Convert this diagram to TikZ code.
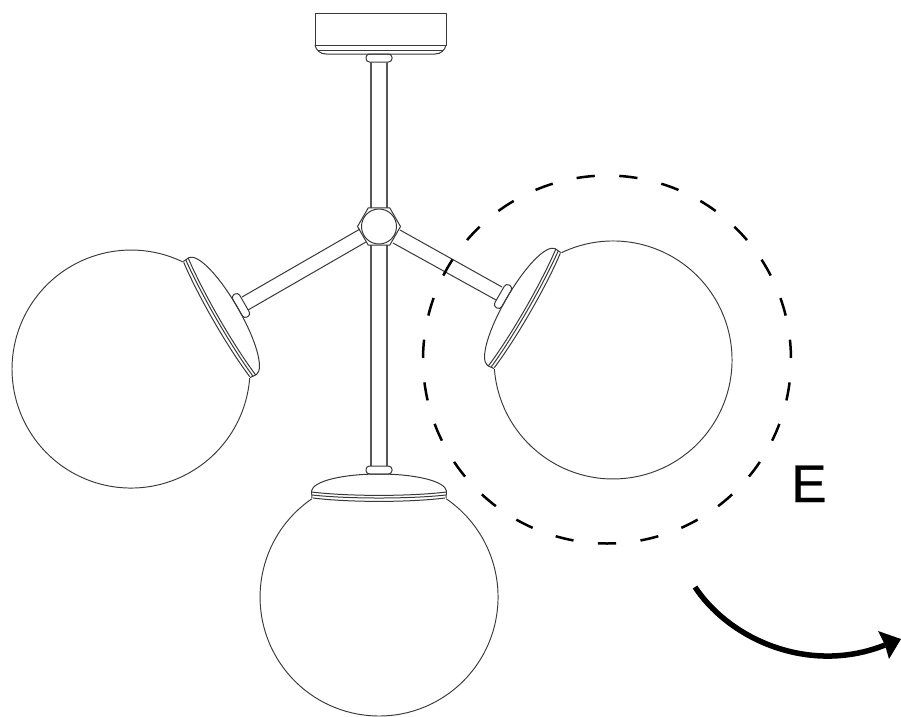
\documentclass[tikz,border=0pt]{standalone}
\usepackage{fontspec}
\setmainfont{Liberation Sans}
\newfontfamily\labelfont[FakeBold=0.6]{Liberation Sans}
\usetikzlibrary{shapes.geometric,calc}
\definecolor{ink}{gray}{0.22}
\tikzset{
  x=1pt,y=1pt,
  part/.style={draw=ink,line width=1pt,line join=round},
  glass/.style={draw=ink,line width=0.95pt},
  tube/.style={draw=ink!85,line width=1.2pt},
  dashpiece/.style={draw=black,line width=2.5pt},
  lamp/.pic={
    % globe
    \draw[glass] (-67,98.3) arc[start angle=124.3,end angle=415.7,radius=119];
    % shade dome
    \draw[part] (-67,99) -- (-67.5,106) .. controls (-66,116) and (-36,123) .. (0,123)
                .. controls (36,123) and (66,116) .. (67.5,106) -- (67,99);
    % band
    \draw[part] (-67.5,105) .. controls (-30,100.5) and (30,100.5) .. (67.5,105);
    \draw[part] (-67,102) .. controls (-30,98) and (30,98) .. (67,102);
    \draw[part] (-66,99) .. controls (-30,94.5) and (30,94.5) .. (66,99);
    % nut
    \draw[part,rounded corners=3.5pt] (-13,123) rectangle (13,131);
  }
}
\begin{document}
\begin{tikzpicture}
\useasboundingbox (0,0) rectangle (901,-716);
% canopy
\draw[part] (315,-45) -- (315,-13) -- (446,-13) -- (446,-45) -- cycle;
\draw[part] (315,-45) .. controls (316,-50) and (320,-54) .. (326,-54) -- (435,-54)
            .. controls (441,-54) and (445,-50) .. (446,-45);
\draw[part] (318,-50) -- (443,-50);
\draw[part,rounded corners=3.5pt] (366,-54) rectangle (392,-62);
% stems
\draw[tube] (371,-62) -- (371,-208) (387,-62) -- (387,-208);
\draw[tube] (371,-245) -- (371,-466) (387,-245) -- (387,-466);
% hub
\node[draw=ink,line width=1pt,regular polygon,regular polygon sides=6,minimum size=43pt,inner sep=0pt] (hub) at (379,-226.5) {};
\node[draw=ink,line width=1pt,circle,minimum size=35pt,inner sep=0pt] (hubin) at (379,-226.5) {};
% arms
\draw[part] (400,-230) -- (502,-287) (393,-243) -- (496,-300);
\draw[part] (360,-229) -- (242,-297) (366,-242) -- (248,-310);
% lamps
\pic[rotate=60] (lampR) at (613,-360) {lamp};
\pic[rotate=-60] (lampL) at (131,-369) {lamp};
\pic (lampB) at (379,-597) {lamp};
% dashed circle
\coordinate (ringc) at (607,-359.5);
\foreach \k in {0,...,26}{
  \pgfmathsetmacro{\a}{-90+13.333*\k}
  \draw[dashpiece] ($(ringc)+(\a-2.85:184)$) arc[start angle=\a-2.85,end angle=\a+2.85,radius=184];
}
% label
\node[anchor=base west,inner sep=0pt,font=\labelfont\fontsize{53}{53}\selectfont] (elabel) at (791,-502) {E};
% arrow
\coordinate (arrstart) at (695,-587);
\coordinate (arrend) at (885,-645);
\draw[line width=5.5pt,black] (arrstart) .. controls (730,-640) and (810,-675) .. (arrend);
\fill[black] (901,-639) -- (878,-631) -- (885,-645) -- (889,-659) -- cycle;
\end{tikzpicture}
\end{document}
